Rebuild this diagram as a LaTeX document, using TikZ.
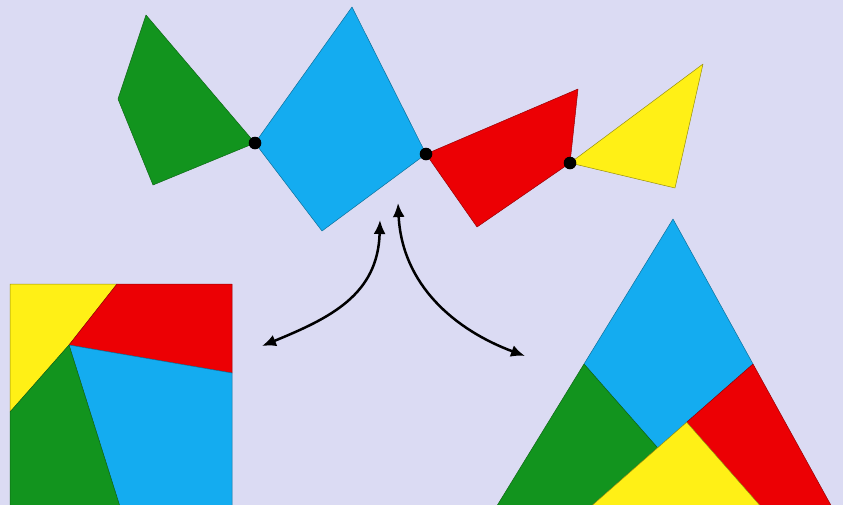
\documentclass[tikz,border=0pt]{standalone}
\usetikzlibrary{arrows.meta}
\definecolor{bg}{RGB}{219,219,243}
\definecolor{pgreen}{RGB}{18,148,30}
\definecolor{pblue}{RGB}{20,172,240}
\definecolor{pred}{RGB}{236,0,4}
\definecolor{pyellow}{RGB}{255,240,22}
\tikzset{
  gpiece/.style={fill=pgreen,draw=pgreen!70!black,line width=0.5pt,line join=round},
  bpiece/.style={fill=pblue,draw=pblue!65!black,line width=0.5pt,line join=round},
  rpiece/.style={fill=pred,draw=pred!65!black,line width=0.5pt,line join=round},
  ypiece/.style={fill=pyellow,draw=pyellow!60!black,line width=0.5pt,line join=round},
  hinge/.style={fill=black},
  movearrow/.style={line width=2.5pt,{Latex[length=14pt,width=12pt]}-{Latex[length=14pt,width=12pt]}}
}
\begin{document}
\begin{tikzpicture}[x=1pt,y=-1pt]
\useasboundingbox (0,0) rectangle (843,504);
\fill[bg] (-6,-6) rectangle (849,512);
% ---- top chain ----
\coordinate (h1) at (255,143);
\coordinate (h2) at (426,154);
\coordinate (h3) at (570,163);
\draw[gpiece] (146,15) -- (118,99) -- (153,185) -- (h1) -- cycle;
\draw[bpiece] (h1) -- (352,7) -- (h2) -- (322,231) -- cycle;
\draw[rpiece] (h2) -- (578,89) -- (h3) -- (477,227) -- cycle;
\draw[ypiece] (h3) -- (703,64) -- (675,188) -- cycle;
\foreach \h in {h1,h2,h3} \fill[hinge] (\h) circle (6.3pt);
% ---- square ----
\coordinate (sa) at (10,284);
\coordinate (sb) at (232,284);
\coordinate (sc) at (232,510);
\coordinate (sd) at (10,510);
\coordinate (sp) at (69,345);
\coordinate (sy) at (117,284);
\coordinate (sl) at (10,412);
\coordinate (sr) at (232,373);
\coordinate (sm) at (121,510);
\draw[ypiece] (sa) -- (sy) -- (sp) -- (sl) -- cycle;
\draw[rpiece] (sy) -- (sb) -- (sr) -- (sp) -- cycle;
\draw[bpiece] (sp) -- (sr) -- (sc) -- (sm) -- cycle;
\draw[gpiece] (sl) -- (sp) -- (sm) -- (sd) -- cycle;
% ---- triangle ----
\coordinate (tA) at (673,219);
\coordinate (tD) at (584,364);
\coordinate (tE) at (753,364);
\coordinate (tB) at (495,509);
\coordinate (tC) at (833,509);
\coordinate (tJ) at (588,509);
\coordinate (tK) at (763,509);
\coordinate (tF) at (657.6,447.8);
\coordinate (tG) at (686.7,422.2);
\draw[bpiece] (tA) -- (tD) -- (tF) -- (tG) -- (tE) -- cycle;
\draw[gpiece] (tD) -- (tB) -- (tJ) -- (tF) -- cycle;
\draw[rpiece] (tE) -- (tG) -- (tK) -- (tC) -- cycle;
\draw[ypiece] (tG) -- (tF) -- (tJ) -- (tK) -- cycle;
% ---- arrows ----
\coordinate (a1s) at (380,220);
\coordinate (a1e) at (262,346);
\coordinate (a2s) at (398,203);
\coordinate (a2e) at (525,356);
\draw[movearrow] (a1s) .. controls (378,295) and (330,318) .. (a1e);
\draw[movearrow] (a2s) .. controls (402,285) and (455,330) .. (a2e);
\end{tikzpicture}
\end{document}
